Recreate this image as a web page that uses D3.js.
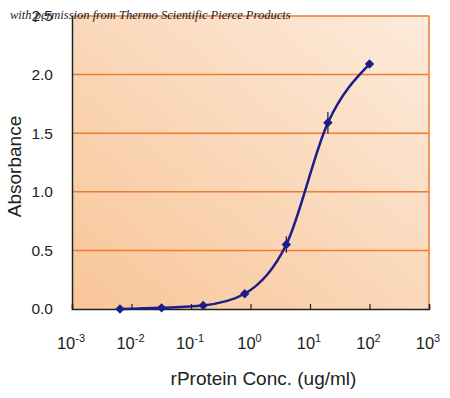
<!DOCTYPE html>
<meta charset="utf-8">
<head>
    <script src="https://d3js.org/d3.v7.min.js"></script>
    <style>
    body { margin: 0; background: #fff; }
    text { font-family: "Liberation Sans", Arial, sans-serif; fill: #222; }
    </style>
</head>
<body>
    <script>
    // data (five-fold dilution series)
    var conc = [0.0064, 0.032, 0.16, 0.8, 4, 20, 100];
    var absorb = [0.0, 0.01, 0.03, 0.13, 0.55, 1.59, 2.09];
    var errs = [0, 0, 0, 0, 0.07, 0.09, 0];
    var yTicks = [0.0, 0.5, 1.0, 1.5, 2.0, 2.5];
    var xExps = [-3, -2, -1, 0, 1, 2, 3];

    var margin = { top: 16, right: 21, bottom: 89, left: 72 },
        width = 450 - margin.left - margin.right,
        height = 398 - margin.top - margin.bottom;

    var x = d3.scaleLog().domain([1e-3, 1e3]).range([0, width]);
    var y = d3.scaleLinear().domain([0, 2.5]).range([height, 0]);

    var svg = d3.select("body").append("svg")
        .attr("width", 450)
        .attr("height", 398);

    // background gradient
    var grad = svg.append("defs").append("linearGradient")
        .attr("id", "bg")
        .attr("x1", "0%").attr("y1", "100%")
        .attr("x2", "100%").attr("y2", "0%");
    grad.append("stop").attr("offset", "0%").attr("stop-color", "#f8c598");
    grad.append("stop").attr("offset", "100%").attr("stop-color", "#fdebdc");

    var g = svg.append("g")
        .attr("transform", "translate(" + margin.left + "," + margin.top + ")");

    g.append("rect")
        .attr("width", width).attr("height", height)
        .attr("fill", "url(#bg)");

    // gridlines
    g.selectAll(".grid")
        .data(yTicks.filter(function(d) { return d > 0 && d < 2.5; }))
        .enter().append("line")
        .attr("x1", 0).attr("x2", width)
        .attr("y1", function(d) { return y(d); })
        .attr("y2", function(d) { return y(d); })
        .attr("stroke", "#f07b30").attr("stroke-width", 1.5);

    // top and right frame (orange)
    g.append("path")
        .attr("d", "M0,0H" + width + "V" + height)
        .attr("fill", "none").attr("stroke", "#f07b30").attr("stroke-width", 1.5);

    // x axis
    var xAxis = g.append("g")
        .attr("transform", "translate(0," + height + ")")
        .call(d3.axisBottom(x).tickValues(xExps.map(function(e) { return Math.pow(10, e); }))
            .tickSize(-5).tickFormat(""));
    xAxis.select(".domain").attr("stroke", "#222").attr("stroke-width", 1.5);
    xAxis.selectAll(".tick line").attr("stroke", "#222").attr("stroke-width", 1.2);

    var xl = g.selectAll(".xlab")
        .data(xExps)
        .enter().append("text")
        .attr("x", function(d) { return x(Math.pow(10, d)) - 1; })
        .attr("y", height + 40)
        .attr("text-anchor", "middle")
        .style("font-size", "16.5px");
    xl.append("tspan").text("10");
    xl.append("tspan")
        .attr("dy", -7)
        .style("font-size", "11px")
        .text(function(d) { return d; });

    // y axis
    var yAxis = g.append("g")
        .call(d3.axisLeft(y).tickValues(yTicks).tickSize(0).tickPadding(19)
            .tickFormat(d3.format(".1f")));
    yAxis.select(".domain").attr("stroke", "#222").attr("stroke-width", 1.5);
    yAxis.selectAll("text")
        .style("font-size", "15.5px")
        .style("font-family", "'Liberation Sans', Arial, sans-serif")
        .attr("fill", "#222");

    // curve
    var pts = conc.map(function(c, i) { return [c, absorb[i], errs[i]]; });
    g.append("path")
        .datum(pts)
        .attr("fill", "none")
        .attr("stroke", "#1c1c8a")
        .attr("stroke-width", 2.5)
        .attr("d", d3.line()
            .x(function(d) { return x(d[0]); })
            .y(function(d) { return y(d[1]); })
            .curve(d3.curveMonotoneX));

    // error bars
    g.selectAll(".err")
        .data(pts.filter(function(d) { return d[2] > 0; }))
        .enter().append("line")
        .attr("x1", function(d) { return x(d[0]); })
        .attr("x2", function(d) { return x(d[0]); })
        .attr("y1", function(d) { return y(d[1] + d[2]); })
        .attr("y2", function(d) { return y(d[1] - d[2]); })
        .attr("stroke", "#1a1a40").attr("stroke-width", 1.2);

    // markers (square diamonds)
    g.selectAll(".pt")
        .data(pts)
        .enter().append("path")
        .attr("d", d3.symbol().type(d3.symbolSquare).size(44))
        .attr("transform", function(d) {
            return "translate(" + x(d[0]) + "," + y(d[1]) + ") rotate(45)";
        })
        .attr("fill", "#1c1c8a");

    // axis titles
    svg.append("text")
        .attr("transform", "translate(" + (margin.left + width / 2 + 13) + "," + 385 + ")")
        .attr("text-anchor", "middle")
        .style("font-size", "19px")
        .text("rProtein Conc. (ug/ml)");

    svg.append("text")
        .attr("transform", "translate(21," + (margin.top + height / 2 + 4) + ") rotate(-90)")
        .attr("text-anchor", "middle")
        .style("font-size", "19px")
        .text("Absorbance");

    // watermark
    svg.append("text")
        .attr("x", 10).attr("y", 19)
        .style("font-family", "'Liberation Serif', 'DejaVu Serif', serif")
        .style("font-style", "italic")
        .style("font-size", "12.5px")
        .style("fill", "#1a1a2a")
        .text("with permission from Thermo Scientific Pierce Products");
    </script>
</body>
</html>
